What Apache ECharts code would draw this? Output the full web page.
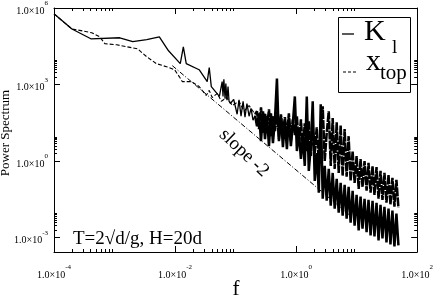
<!DOCTYPE html>
<html>
<head>
<meta charset="utf-8">
<script src="https://cdn.jsdelivr.net/npm/echarts@6/dist/echarts.min.js"></script>
<style>
html,body{margin:0;padding:0;background:#fff;}
#chart{width:436px;height:299px;}
</style>
</head>
<body>
<div id="chart"></div>
<script>
// low frequency part, K_l (solid)
var klFreq = [1e-4, 1.98e-4, 4.06e-4, 1.22e-3, 2.0e-3, 3.4e-3, 5.5e-3, 7.8e-3, 0.0122, 0.0137, 0.0153, 0.025, 0.034, 0.0367, 0.0397, 0.054, 0.060, 0.062, 0.064, 0.067, 0.069, 0.072, 0.075, 0.078, 0.082, 0.093, 0.106, 0.114, 0.123, 0.133, 0.143, 0.154, 0.167, 0.180, 0.194, 0.210];
var klPower = [5.9e5, 1.5e5, 6.2e4, 6.8e4, 4.8e4, 5.7e4, 7.4e4, 2.1e4, 6.6e3, 3.0e4, 6.6e3, 3.8e3, 1.3e3, 4.6e3, 830, 340, 1300, 340, 1600, 280, 1100, 240, 830, 220, 180, 260, 68, 250, 57, 220, 52, 180, 57, 116, 40, 60];
// low frequency part, x_top (dashed)
var xtopFreq = [1e-4, 1.98e-4, 3.0e-4, 4.2e-4, 5.7e-4, 6.9e-4, 1.09e-3, 2.4e-3, 3.4e-3, 4.9e-3, 7.2e-3, 9.8e-3, 0.0118, 0.0132, 0.0186, 0.025, 0.0327, 0.0367, 0.041, 0.050, 0.058, 0.072, 0.088, 0.114, 0.138, 0.167, 0.210];
var xtopPower = [5.9e5, 1.5e5, 1.26e5, 1.07e5, 7.4e4, 4.0e4, 3.6e4, 2.5e4, 1.23e4, 6.6e3, 5.0e3, 3.8e3, 2.0e3, 1.3e3, 1.3e3, 830, 370, 590, 310, 450, 220, 310, 150, 220, 89, 150, 68];
// noisy high frequency part, both series
var hiFreq = [0.226, 0.244, 0.263, 0.284, 0.306, 0.330, 0.356, 0.384, 0.414, 0.447, 0.482, 0.520, 0.561, 0.605, 0.652, 0.704, 0.759, 0.819, 0.883, 0.953,
  1.03, 1.11, 1.20, 1.29, 1.39, 1.50, 1.62, 1.75, 1.88, 2.03, 2.19, 2.37, 2.55, 2.75, 2.97, 3.20, 3.46, 3.73, 4.02, 4.34,
  4.68, 5.05, 5.44, 5.87, 6.33, 6.83, 7.37, 7.95, 8.58, 9.25, 9.98, 10.8, 11.6, 12.5, 13.5, 14.6, 15.7, 17.0, 18.3, 19.7,
  21.3, 23.0, 24.8, 26.7, 28.8, 31.1, 33.6, 36.2, 39.0, 42.1, 45.4, 49.0];
var klPowerHi = [23, 74, 6.0, 89, 7.2, 57, 3.8, 74, 5.0, 43, 1700, 6.0, 57, 3.5, 36, 2.9, 48, 3.8, 30, 340,
  2.45, 14.8, 1.2, 9.4, 0.64, 340, 0.41, 3.8, 218, 0.166, 2.05, 0.057, 166, 0.033, 0.64, 0.0277, 0.49, 0.0177, 0.34, 0.0135,
  0.20, 0.0094, 0.139, 0.0072, 0.116, 0.0055, 0.097, 0.0038, 0.068, 0.0029, 0.047, 0.0019, 0.040, 0.0022, 0.033, 0.0016, 0.030, 0.0012, 0.0277, 0.0011,
  0.0231, 0.00077, 0.0193, 0.00092, 0.0161, 0.00064, 0.0135, 0.00053, 0.0113, 0.00045, 0.0086, 0.00049];
var xtopPowerHi = [89, 17.7, 127, 12.4, 74, 21, 106, 9.4, 57, 14.8, 89, 7.2, 68, 12.4, 52, 8.6, 74, 6.0, 43, 10.3,
  57, 3.8, 43, 2.9, 30, 2.45, 36, 1.57, 23, 2.05, 21, 1.0, 17.7, 139, 1.0, 12.4, 89, 0.64, 48, 0.49,
  33, 0.34, 25, 0.26, 17.7, 0.24, 9.4, 0.166, 2.45, 0.139, 1.57, 0.081, 1.2, 0.097, 1.0, 0.068, 0.84, 0.057, 0.64, 0.047,
  0.58, 0.033, 0.41, 0.030, 0.34, 0.0231, 0.285, 0.0193, 0.218, 0.0161, 0.182, 0.0148];
// slope -2 guide line
var slopeFreq = [0.009, 9.6];
var slopePower = [5500, 0.0048];

var xMajor = [1e-4, 1e-2, 1, 1e2];
var yMajor = [1e-3, 1, 1e3, 1e6];
var minorMult = [2, 3, 4, 5, 6, 7, 8, 9];
var xMin = 1e-4, xMax = 1e2, yMin = 2.7e-4, yMax = 1e6;

var lg = Math.log10;
function pairs(f, p) { return f.map(function (v, i) { return [lg(v), lg(p[i])]; }); }
function minors(major) {
  var out = [];
  major.slice(0, -1).forEach(function (m) { minorMult.forEach(function (k) { out.push(lg(m * k)); }); });
  return out;
}
var serif = '"Liberation Serif", "DejaVu Serif", serif';
var labelRich = {
  m: {fontSize: 10, fontFamily: serif, color: '#000', lineHeight: 16, verticalAlign: 'bottom'},
  e: {fontSize: 7, fontFamily: serif, color: '#000', lineHeight: 8, verticalAlign: 'top'}
};
function fmt(v) { return '{m|1.0×10}{e|' + Math.round(v) + '}'; }

var xMaj = xMajor.map(lg), yMaj = yMajor.map(lg);
var xLo = lg(xMin), xHi = lg(xMax), yLo = lg(yMin), yHi = lg(yMax);

function axis(pos, lo, hi, labels, margin) {
  return {
    type: 'value', position: pos, min: lo, max: hi,
    axisLine: {show: true, onZero: false, lineStyle: {color: '#000', width: 1}},
    splitLine: {show: false}, axisTick: {show: false},
    axisLabel: labels ? {show: true, customValues: labels, formatter: fmt, rich: labelRich, margin: margin} : {show: false}
  };
}

var klLast = klFreq.length - 1, xtLast = xtopFreq.length - 1;

var textGraphic = [
  {type: 'text', x: 6, y: 133, rotation: Math.PI / 2,
    style: {text: 'Power Spectrum', fontSize: 13, fontFamily: serif, fill: '#000', align: 'center', verticalAlign: 'middle'}},
  {type: 'text', x: 236, y: 289,
    style: {text: 'f', fontSize: 21, fontFamily: serif, fill: '#000', align: 'center', verticalAlign: 'middle'}},
  {type: 'text', x: 73, y: 239,
    style: {text: 'T=2√d/g, H=20d', fontSize: 19, fontFamily: serif, fill: '#000', align: 'left', verticalAlign: 'middle'}},
  {type: 'text', x: 244, y: 153, rotation: -0.76,
    style: {text: 'slope -2', fontSize: 19, fontFamily: serif, fill: '#000', align: 'center', verticalAlign: 'middle'}},
  {type: 'rect', shape: {x: 338.5, y: 17.5, width: 72, height: 75},
    style: {fill: '#fff', stroke: '#000', lineWidth: 1}},
  {type: 'line', shape: {x1: 342, y1: 34, x2: 354, y2: 34}, style: {stroke: '#000', lineWidth: 1.3}},
  {type: 'text', x: 364, y: 32,
    style: {text: 'K', fontSize: 30, fontFamily: serif, fill: '#000', align: 'left', verticalAlign: 'middle'}},
  {type: 'text', x: 392, y: 48.5,
    style: {text: 'l', fontSize: 19, fontFamily: serif, fill: '#000', align: 'left', verticalAlign: 'middle'}},
  {type: 'line', shape: {x1: 343, y1: 72, x2: 356, y2: 72}, style: {stroke: '#000', lineWidth: 1.1, lineDash: [3, 2]}},
  {type: 'text', x: 366, y: 62,
    style: {text: 'x', fontSize: 30, fontFamily: serif, fill: '#000', align: 'left', verticalAlign: 'middle'}},
  {type: 'text', x: 380, y: 73,
    style: {text: 'top', fontSize: 21, fontFamily: serif, fill: '#000', align: 'left', verticalAlign: 'middle'}}
];

var chart = echarts.init(document.getElementById('chart'));
chart.setOption({
  animation: false,
  grid: {left: 54, right: 17, top: 6, bottom: 47},
  xAxis: [axis('bottom', xLo, xHi, xMaj, 12), axis('top', xLo, xHi, null)],
  yAxis: [axis('left', yLo, yHi, yMaj, 6), axis('right', yLo, yHi, null)],
  series: [
    {name: 'x_top', type: 'line', symbol: 'none', data: pairs(xtopFreq, xtopPower),
      lineStyle: {color: '#000', width: 1.1, type: [4, 2]}},
    {name: 'x_top', type: 'line', symbol: 'none',
      data: pairs([xtopFreq[xtLast]].concat(hiFreq), [xtopPower[xtLast]].concat(xtopPowerHi)),
      lineStyle: {color: '#000', width: 2.5, type: [9, 1]}},
    {name: 'K_l', type: 'line', symbol: 'none', data: pairs(klFreq, klPower),
      lineStyle: {color: '#000', width: 1.3}},
    {name: 'K_l', type: 'line', symbol: 'none',
      data: pairs([klFreq[klLast]].concat(hiFreq), [klPower[klLast]].concat(klPowerHi)),
      lineStyle: {color: '#000', width: 2.5}},
    {name: 'slope', type: 'line', symbol: 'none', data: pairs(slopeFreq, slopePower),
      lineStyle: {color: '#000', width: 1, type: [5, 2, 1, 2]}}
  ],
  graphic: textGraphic
});

// inward frame ticks, placed through the chart's own scales with convertToPixel
function tickLine(a, b) {
  return {type: 'line', z: 100, zlevel: 1, shape: {x1: a[0], y1: a[1], x2: b[0], y2: b[1]},
    style: {stroke: '#000', lineWidth: 1}};
}
var tickGraphic = [];
function addX(vals, len) {
  vals.forEach(function (v) {
    var b = chart.convertToPixel({gridIndex: 0}, [v, yLo]);
    var t = chart.convertToPixel({gridIndex: 0}, [v, yHi]);
    var x = Math.round(b[0]) + 0.5;
    tickGraphic.push(tickLine([x, b[1]], [x, b[1] - len]));
    tickGraphic.push(tickLine([x, t[1]], [x, t[1] + len]));
  });
}
function addY(vals, len) {
  vals.forEach(function (v) {
    var l = chart.convertToPixel({gridIndex: 0}, [xLo, v]);
    var r = chart.convertToPixel({gridIndex: 0}, [xHi, v]);
    var y = Math.round(l[1]) + 0.5;
    tickGraphic.push(tickLine([l[0], y], [l[0] + len, y]));
    tickGraphic.push(tickLine([r[0], y], [r[0] - len, y]));
  });
}
addX(xMaj, 6); addX(minors(xMajor), 3);
addY(yMaj, 6); addY(minors(yMajor), 3);
chart.setOption({graphic: textGraphic.concat(tickGraphic)});
</script>
</body>
</html>
